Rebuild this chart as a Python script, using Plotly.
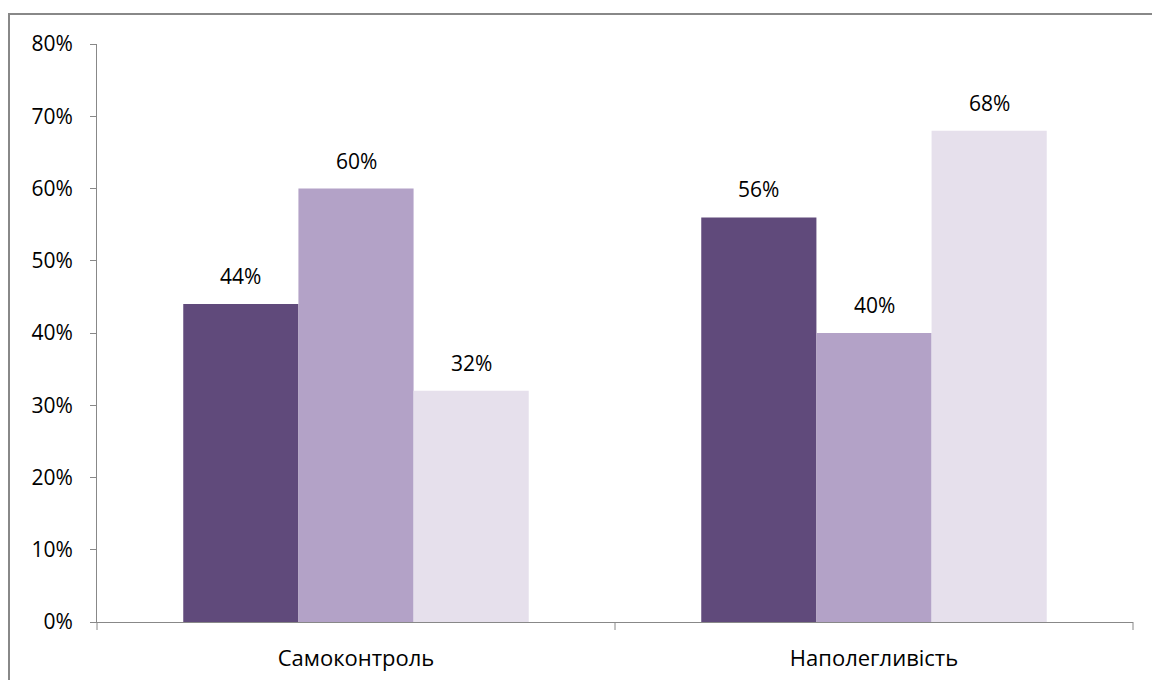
import plotly.graph_objects as go

categories = ["Самоконтроль", "Наполегливість"]
series1 = [0.44, 0.56]
series2 = [0.60, 0.40]
series3 = [0.32, 0.68]
colors = ["#604A7B", "#B3A2C7", "#E6E0EC"]
tick_vals = [0, 0.1, 0.2, 0.3, 0.4, 0.5, 0.6, 0.7, 0.8]
tick_text = ["0%", "10%", "20%", "30%", "40%", "50%", "60%", "70%", "80%"]

font_family = "'Open Sans', sans-serif"
fsize = 21
bargap = 0.333

fig = go.Figure()
all_series = [series1, series2, series3]
for vals, col in zip(all_series, colors):
    fig.add_trace(go.Bar(
        x=categories, y=vals, marker=dict(color=col, line=dict(width=0)),
        showlegend=False, hoverinfo="x+y",
    ))

# value labels above each bar, placed at the bar centres of the grouped layout
n = len(all_series)
bw = (1 - bargap) / n
annotations = []
for si, vals in enumerate(all_series):
    for ci, v in enumerate(vals):
        annotations.append(dict(
            x=ci + (si - (n - 1) / 2) * bw, y=v, xref="x", yref="y",
            text=f"{round(v*100)}%", showarrow=False,
            xanchor="center", yanchor="middle", yshift=28,
            font=dict(family=font_family, size=fsize, color="#000000"),
        ))

W, H = 1152, 680
l, r, t, b = 97, 19, 44, 58
pw, ph = W - l - r, H - t - b

def px(xp):
    return (xp - l) / pw

def py(yp):
    return (H - b - yp) / ph

fig.update_layout(
    width=W, height=H,
    margin=dict(l=l, r=r, t=t, b=b),
    paper_bgcolor="white", plot_bgcolor="white",
    barmode="group", bargap=bargap, bargroupgap=0,
    font=dict(family=font_family, size=fsize, color="#000000"),
    annotations=annotations,
    xaxis=dict(
        showline=True, linecolor="#888888", linewidth=1,
        ticks="outside", ticklen=0, showgrid=False,
        ticklabelstandoff=17, automargin=False,
        tickfont=dict(family=font_family, size=22),
    ),
    yaxis=dict(
        range=[0, 0.8], tickvals=tick_vals, ticktext=tick_text,
        showline=True, linecolor="#888888", linewidth=1,
        ticks="outside", ticklen=6, tickcolor="#888888",
        showgrid=False, zeroline=False, ticklabelstandoff=13,
        automargin=False,
        tickfont=dict(family=font_family, size=fsize),
    ),
    shapes=[
        dict(type="rect", xref="paper", yref="paper",
             x0=px(9), x1=px(1165), y0=py(14), y1=py(700),
             line=dict(color="#888888", width=2), fillcolor="rgba(0,0,0,0)", layer="below"),
        dict(type="line", xref="paper", yref="paper",
             x0=px(97), x1=px(97), y0=0, y1=py(630),
             line=dict(color="#888888", width=1)),
        dict(type="line", xref="paper", yref="paper",
             x0=px(615), x1=px(615), y0=0, y1=py(630),
             line=dict(color="#888888", width=1)),
        dict(type="line", xref="paper", yref="paper",
             x0=px(1133), x1=px(1133), y0=0, y1=py(630),
             line=dict(color="#888888", width=1)),
    ],
)

fig.write_html("out.html")
